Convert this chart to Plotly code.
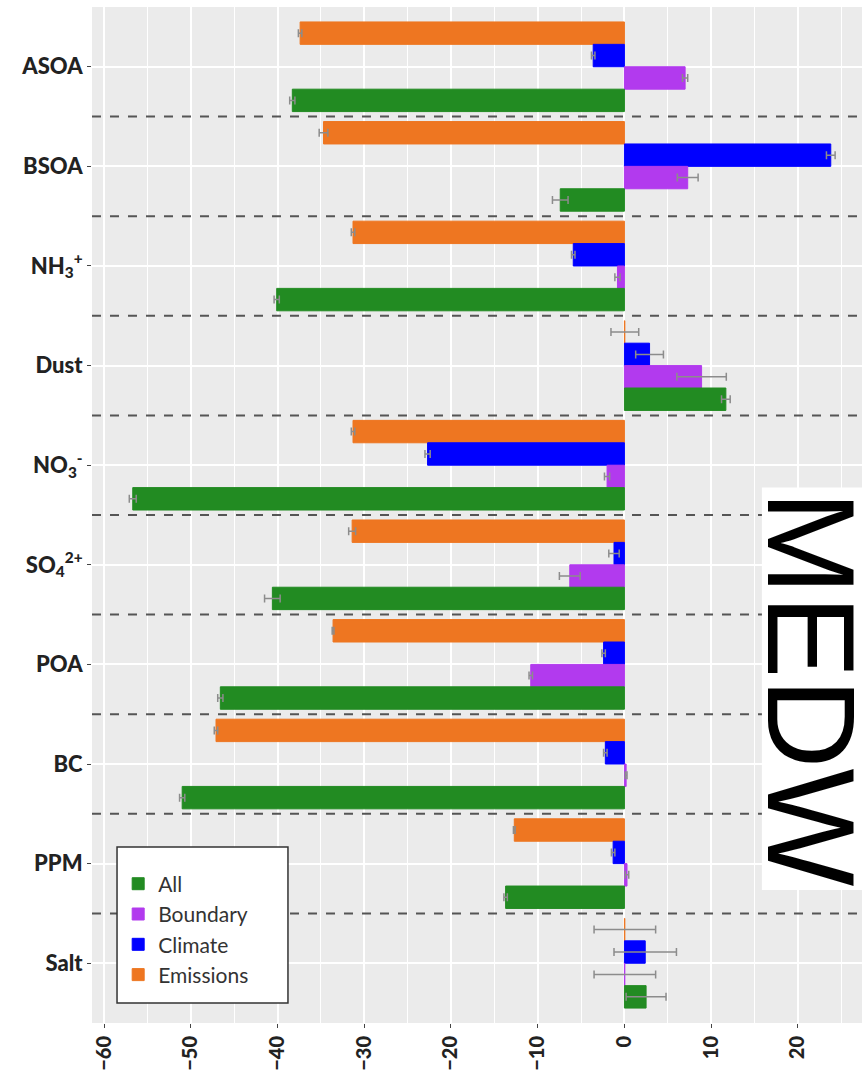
import plotly.graph_objects as go

categories = ["ASOA", "BSOA", "NH<sub>3</sub><sup>+</sup>", "Dust", "NO<sub>3</sub><sup>-</sup>",
              "SO<sub>4</sub><sup>2+</sup>", "POA", "BC", "PPM", "Salt"]

all_vals = [-38.3, -7.4, -40.1, 11.7, -56.7, -40.6, -46.6, -51.0, -13.7, 2.5]
all_err = [0.3, 0.9, 0.3, 0.5, 0.4, 0.9, 0.3, 0.3, 0.2, 2.3]
boundary_vals = [7.0, 7.3, -0.8, 8.9, -2.0, -6.3, -10.8, 0.2, 0.3, 0.05]
boundary_err = [0.3, 1.2, 0.3, 2.85, 0.3, 1.2, 0.2, 0.1, 0.2, 3.55]
climate_vals = [-3.6, 23.8, -5.9, 2.9, -22.7, -1.2, -2.4, -2.2, -1.3, 2.4]
climate_err = [0.2, 0.5, 0.2, 1.6, 0.3, 0.6, 0.2, 0.2, 0.2, 3.6]
emissions_vals = [-37.4, -34.7, -31.3, 0.05, -31.3, -31.4, -33.6, -47.1, -12.7, 0.05]
emissions_err = [0.2, 0.5, 0.2, 1.6, 0.2, 0.4, 0.1, 0.2, 0.1, 3.55]

# drawn top-to-bottom within each group; legend order set by rank
series = [
    ("Emissions", emissions_vals, emissions_err, "#EE7621", 4),
    ("Climate", climate_vals, climate_err, "#0000FF", 3),
    ("Boundary", boundary_vals, boundary_err, "#B23AEE", 2),
    ("All", all_vals, all_err, "#228B22", 1),
]

x_ticks = [-60, -50, -40, -30, -20, -10, 0, 10, 20]

fig = go.Figure()
for name, vals, errs, col, rank in series:
    fig.add_trace(go.Bar(
        y=categories, x=vals, name=name, orientation="h", legendrank=rank,
        marker=dict(color=col, line=dict(color=col, width=1)),
        error_x=dict(type="data", array=errs, color="#8C8C8C", thickness=1.5, width=4),
    ))

shapes = []
for i in range(len(categories) - 1):
    shapes.append(dict(type="line", xref="paper", yref="y", x0=0, x1=1, y0=i + 0.5, y1=i + 0.5,
                       line=dict(color="#555555", width=2, dash="dash"), layer="above"))
# white panel behind the region label
shapes.append(dict(type="rect", xref="paper", yref="paper", x0=0.870, x1=1.0, y0=0.131, y1=0.527,
                   fillcolor="white", line=dict(width=0), layer="above"))
# legend frame
shapes.append(dict(type="rect", xref="paper", yref="paper", x0=0.0325, x1=0.2545, y0=0.0197, y1=0.1732,
                   fillcolor="white", line=dict(color="#333333", width=1.5), layer="above"))

fig.update_layout(
    width=862, height=1078,
    margin=dict(l=92, r=0, t=7, b=55),
    plot_bgcolor="#EBEBEB", paper_bgcolor="white",
    barmode="group", bargap=0.1, bargroupgap=0,
    font=dict(family="Lato, sans-serif", color="#222222"),
    shapes=shapes,
    legend=dict(
        x=0.034, y=0.171, xanchor="left", yanchor="top",
        bgcolor="rgba(0,0,0,0)", borderwidth=0,
        font=dict(size=21, color="#333333"), traceorder="normal",
        title=dict(text=" ", font=dict(size=11)),
        itemwidth=30, tracegroupgap=0,
    ),
    xaxis=dict(
        range=[-61.4, 27.4], tickvals=x_ticks, ticktext=[str(v).replace("-", "−") for v in x_ticks],
        tickangle=-90, tickfont=dict(size=20, color="#222222", family="Lato Black, Lato, sans-serif"),
        ticks="outside", ticklen=4, tickcolor="#444444",
        showgrid=True, gridcolor="white", gridwidth=1.8,
        minor=dict(dtick=5, tick0=-55, showgrid=True, gridcolor="white", gridwidth=0.9),
        zeroline=False, showline=False, automargin=False,
    ),
    yaxis=dict(
        categoryorder="array", categoryarray=categories,
        range=[9.6, -0.6],
        tickfont=dict(size=22, color="#222222", family="Lato Black, Lato, sans-serif"),
        ticks="outside", ticklen=4, tickcolor="#444444",
        showgrid=True, gridcolor="white", gridwidth=1.8,
        zeroline=False, showline=False, automargin=False,
    ),
    annotations=[dict(
        text="MEDW", xref="paper", yref="paper", x=0.935, y=0.329,
        xanchor="center", yanchor="middle", height=96,
        showarrow=False, textangle=90,
        font=dict(size=125, color="black", family="Liberation Sans, Arial, sans-serif"),
    )],
)

fig.write_html("out.html", config={"displayModeBar": False},
               post_script="document.body.style.margin='0';document.body.style.overflow='hidden';")
